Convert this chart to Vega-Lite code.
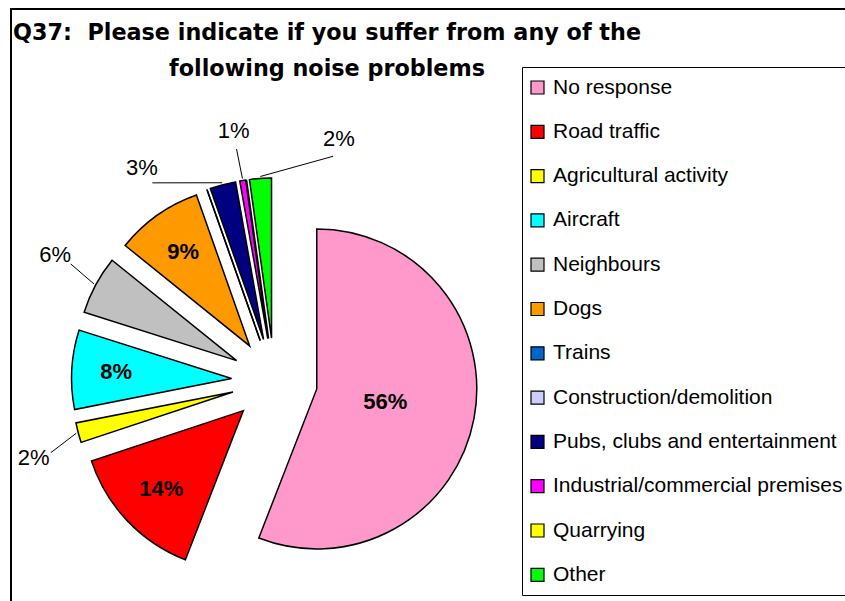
{
  "$schema": "https://vega.github.io/schema/vega-lite/v6.json",
  "width": 840,
  "height": 598,
  "autosize": {"type": "none"},
  "padding": {"left": 11, "top": 9, "right": -6, "bottom": -6},
  "background": "white",
  "config": {"view": {"stroke": "black", "strokeWidth": 2}},
  "title": {
    "text": ["Q37:\u00a0 Please indicate if you suffer from any of the", "following noise problems"],
    "anchor": "start",
    "frame": "group",
    "align": "center",
    "dx": 316,
    "offset": -71,
    "font": "DejaVu Sans",
    "fontSize": 22.3,
    "fontWeight": "bold",
    "lineHeight": 36,
    "color": "black"
  },
  "data": {
    "values": [
      {"category": "No response", "share": 0.559},
      {"category": "Road traffic", "share": 0.14},
      {"category": "Agricultural activity", "share": 0.02},
      {"category": "Aircraft", "share": 0.08},
      {"category": "Neighbours", "share": 0.059},
      {"category": "Dogs", "share": 0.088},
      {"category": "Trains", "share": 0},
      {"category": "Construction/demolition", "share": 0},
      {"category": "Pubs, clubs and entertainment", "share": 0.026},
      {"category": "Industrial/commercial premises", "share": 0.006},
      {"category": "Quarrying", "share": 0},
      {"category": "Other", "share": 0.022}
    ]
  },
  "transform": [
    {"window": [{"op": "sum", "field": "share", "as": "cum"}], "frame": [null, 0]},
    {"calculate": "datum.cum - datum.share", "as": "start"},
    {"calculate": "datum.cum - datum.share / 2", "as": "mid"},
    {"calculate": "2 * PI * datum.mid", "as": "ang"},
    {"calculate": "43 * sin(datum.ang)", "as": "ex"},
    {"calculate": "-43 * cos(datum.ang)", "as": "ey"}
  ],
  "layer": [
    {
      "mark": {"type": "arc", "radius": 160, "stroke": "black", "strokeWidth": 1.5, "strokeJoin": "miter"},
      "encoding": {
        "x": {"field": "ex", "type": "quantitative", "axis": null, "scale": {"domain": [-263.5, 576.5], "range": [0, 840], "nice": false, "zero": false}},
        "y": {"field": "ey", "type": "quantitative", "axis": null, "scale": {"domain": [-372, 226], "range": [0, 598], "nice": false, "zero": false}},
        "theta": {"field": "start", "type": "quantitative", "scale": {"domain": [0, 1], "range": [0, 6.283185307179586]}},
        "theta2": {"field": "cum"},
        "color": {
          "field": "category",
          "type": "nominal",
          "scale": {
            "domain": ["No response", "Road traffic", "Agricultural activity", "Aircraft", "Neighbours", "Dogs", "Trains", "Construction/demolition", "Pubs, clubs and entertainment", "Industrial/commercial premises", "Quarrying", "Other"],
            "range": ["#FF99CC", "#FF0000", "#FFFF00", "#00FFFF", "#C0C0C0", "#FF9900", "#0066CC", "#CCCCFF", "#000080", "#FF00FF", "#FFFF00", "#00FF00"]
          },
          "legend": {
            "orient": "none",
            "legendX": 511,
            "legendY": 58,
            "title": null,
            "padding": 10,
            "strokeColor": "black",
            "fillColor": "white",
            "symbolType": "square",
            "symbolSize": 169,
            "symbolStrokeColor": "black",
            "symbolStrokeWidth": 1.2,
            "symbolOpacity": 1,
            "symbolOffset": -5,
            "labelFont": "Liberation Sans",
            "labelFontSize": 21,
            "labelColor": "black",
            "rowPadding": 22.3,
            "labelOffset": 5,
            "labelLimit": 400
          }
        }
      }
    },
    {
      "transform": [
        {"filter": "datum.share >= 0.07"},
        {"calculate": "PI * datum.share", "as": "half"},
        {"calculate": "2 * 160 * sin(datum.half) / (3 * datum.half) + 10", "as": "lr"},
        {"calculate": "datum.ex + datum.lr * sin(datum.ang)", "as": "lx"},
        {"calculate": "datum.ey - datum.lr * cos(datum.ang)", "as": "ly"}
      ],
      "mark": {"type": "text", "font": "Liberation Sans", "fontSize": 22, "fontWeight": "bold", "align": "center", "baseline": "middle", "color": "black"},
      "encoding": {
        "x": {"field": "lx", "type": "quantitative", "axis": null, "scale": {"domain": [-263.5, 576.5], "range": [0, 840], "nice": false, "zero": false}},
        "y": {"field": "ly", "type": "quantitative", "axis": null, "scale": {"domain": [-372, 226], "range": [0, 598], "nice": false, "zero": false}},
        "text": {"field": "share", "type": "quantitative", "format": ".0%"}
      }
    },
    {
      "transform": [
        {"filter": "datum.share > 0 && datum.share < 0.07"},
        {"window": [{"op": "lag", "field": "mid", "as": "pm"}, {"op": "lead", "field": "mid", "as": "nm"}], "sort": [{"field": "mid"}]},
        {"calculate": "0.5 * ((isValid(datum.pm) && datum.mid - datum.pm < 0.14 ? 0.14 - (datum.mid - datum.pm) : 0) - (isValid(datum.nm) && datum.nm - datum.mid < 0.14 ? 0.14 - (datum.nm - datum.mid) : 0))", "as": "push"},
        {"calculate": "2 * PI * (datum.mid + datum.push)", "as": "la"},
        {"calculate": "datum.ex + 210 * sin(datum.la)", "as": "lx"},
        {"calculate": "datum.ey - 210 * cos(datum.la)", "as": "ly"},
        {"calculate": "datum.ex + 162 * sin(datum.ang)", "as": "p1x"},
        {"calculate": "datum.ey - 162 * cos(datum.ang)", "as": "p1y"},
        {"calculate": "datum.ex + 192 * sin(datum.la)", "as": "p2x"},
        {"calculate": "datum.ey - 192 * cos(datum.la)", "as": "p2y"}
      ],
      "layer": [
        {
          "mark": {"type": "rule", "stroke": "black", "strokeWidth": 1},
          "encoding": {
            "x": {"field": "p1x", "type": "quantitative", "axis": null, "scale": {"domain": [-263.5, 576.5], "range": [0, 840], "nice": false, "zero": false}},
            "y": {"field": "p1y", "type": "quantitative", "axis": null, "scale": {"domain": [-372, 226], "range": [0, 598], "nice": false, "zero": false}},
            "x2": {"field": "p2x"},
            "y2": {"field": "p2y"}
          }
        },
        {
          "mark": {"type": "text", "font": "Liberation Sans", "fontSize": 22, "align": "center", "baseline": "middle", "color": "black"},
          "encoding": {
            "x": {"field": "lx", "type": "quantitative", "axis": null, "scale": {"domain": [-263.5, 576.5], "range": [0, 840], "nice": false, "zero": false}},
            "y": {"field": "ly", "type": "quantitative", "axis": null, "scale": {"domain": [-372, 226], "range": [0, 598], "nice": false, "zero": false}},
            "text": {"field": "share", "type": "quantitative", "format": ".0%"}
          }
        }
      ]
    }
  ]
}
